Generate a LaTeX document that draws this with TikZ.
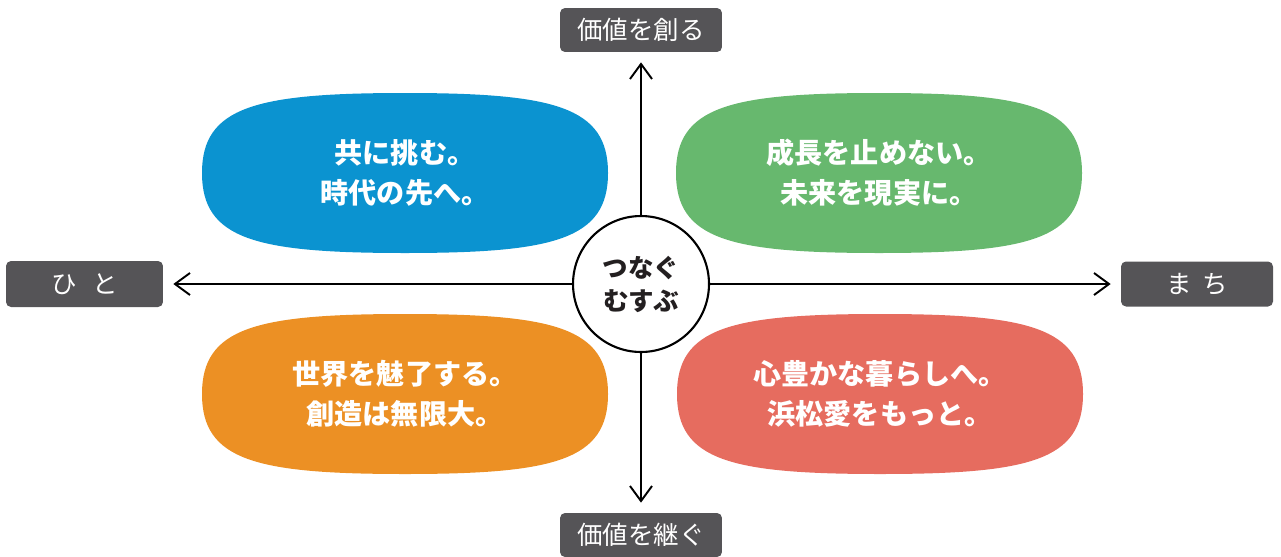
\documentclass[tikz,border=0pt]{standalone}
\usepackage{fontspec}
\usepackage{tikz}
\usetikzlibrary{arrows.meta}
\newfontfamily\jpfont{Noto Sans CJK JP}
\definecolor{challengeblue}{HTML}{0B93D0}
\definecolor{growgreen}{HTML}{67B86E}
\definecolor{charmorange}{HTML}{EC9024}
\definecolor{lifered}{HTML}{E66C5F}
\definecolor{labelgray}{HTML}{555457}
\definecolor{hubtext}{HTML}{231F20}
\tikzset{
  axislabel/.style={fill=labelgray, rounded corners=0.1cm, text=white, inner sep=0pt,
    minimum height=0.88cm, font=\jpfont\fontsize{14.5}{17}\selectfont},
  blobtext/.style={text=white, align=center, font=\jpfont\bfseries\fontsize{16}{22.8}\selectfont},
  axis/.style={line width=1.1pt, -{Straight Barb[length=0.3cm,width=0.44cm]}, shorten >=0.2cm}
}
% rounded blob at #1 filled with #2
\newcommand{\blob}[2]{%
  \fill [color=#2, shift={#1}] (-203,0) .. controls (-203,66) and (-150,80) .. (0,80)
    .. controls (150,80) and (203,66) .. (203,0) .. controls (203,-66) and (150,-80) .. (0,-80)
    .. controls (-150,-80) and (-203,-66) .. (-203,0) -- cycle;}
\begin{document}
\begin{tikzpicture}[x=0.02cm, y=0.02cm]
\useasboundingbox (0,0) rectangle (1281,556);
\blob{(405,383)}{challengeblue}
\blob{(879,383)}{growgreen}
\blob{(405,162)}{charmorange}
\blob{(880,162)}{lifered}
\node[blobtext] (challenge) at (405,383) {共に挑む。\\時代の先へ。};
\node[blobtext] (grow) at (879,383) {成長を止めない。\\未来を現実に。};
\node[blobtext] (charm) at (405,162) {世界を魅了する。\\創造は無限大。};
\node[blobtext] (life) at (880,162) {心豊かな暮らしへ。\\浜松愛をもっと。};
\node[axislabel, minimum width=3.24cm] (create) at (641,526) {価値を創る};
\node[axislabel, minimum width=3.24cm] (inherit) at (641,21) {価値を継ぐ};
\node[axislabel, minimum width=3.14cm, minimum height=0.92cm] (people) at (84.5,272) {ひ\hspace{0.6em}と};
\node[axislabel, minimum width=3.04cm, minimum height=0.9cm] (town) at (1197,272) {ま\hspace{0.4em}ち};
\node[circle, draw, line width=1.2pt, fill=white, minimum size=2.72cm, inner sep=0pt, align=center,
  text=hubtext, font=\jpfont\bfseries\fontsize{14.5}{18.8}\selectfont] (hub) at (641,272) {つなぐ\\むすぶ};
\draw [axis] (hub) -- (create);
\draw [axis] (hub) -- (inherit);
\draw [axis] (hub) -- (people);
\draw [axis] (hub) -- (town);
\end{tikzpicture}
\end{document}
